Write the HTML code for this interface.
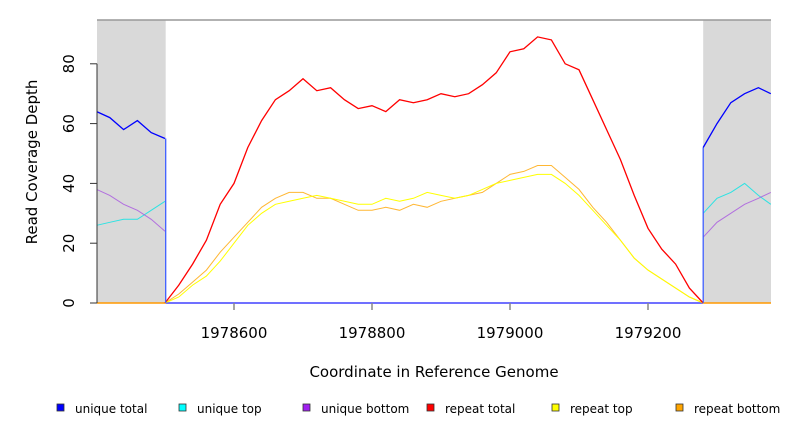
<!DOCTYPE html>
<html><head><meta charset="utf-8"><style>
body{margin:0;background:#fff;font-family:"Liberation Sans","DejaVu Sans",sans-serif}
svg text{font-family:"DejaVu Sans","Liberation Sans",sans-serif}
</style></head><body>
<svg id="chart" width="792" height="432" xmlns="http://www.w3.org/2000/svg">
<g id="plot"></g>
</svg>
<script>
const coordsMid=[1978500,1978520,1978540,1978560,1978580,1978600,1978620,1978640,1978660,1978680,1978700,1978720,1978740,1978760,1978780,1978800,1978820,1978840,1978860,1978880,1978900,1978920,1978940,1978960,1978980,1979000,1979020,1979040,1979060,1979080,1979100,1979120,1979140,1979160,1979180,1979200,1979220,1979240,1979260,1979280];
const repeatTotal=[0,6,13,21,33,40,52,61,68,71,75,71,72,68,65,66,64,68,67,68,70,69,70,73,77,84,85,89,88,80,78,68,58,48,36,25,18,13,5,0];
const repeatBottom=[0,3,7,11,17,22,27,32,35,37,37,35,35,33,31,31,32,31,33,32,34,35,36,37,40,43,44,46,46,42,38,32,27,21,15,11,8,5,2,0];
const repeatTop=[0,2,6,9,14,20,26,30,33,34,35,36,35,34,33,33,35,34,35,37,36,35,36,38,40,41,42,43,43,40,36,31,26,21,15,11,8,5,2,0];
const coordsLeft=[1978401,1978420,1978440,1978460,1978480,1978500];
const uniqueTotalL=[64,62,58,61,57,55];
const uniqueTopL=[26,27,28,28,31,34];
const uniqueBottomL=[38,36,33,31,28,24];
const coordsRight=[1979280,1979300,1979320,1979340,1979360,1979378];
const uniqueTotalR=[52,60,67,70,72,70];
const uniqueTopR=[30,35,37,40,36,33];
const uniqueBottomR=[22,27,30,33,35,37];
const xTicks=[1978600,1978800,1979000,1979200];
const yTicks=[0,20,40,60,80];
const legendLabels=["unique total","unique top","unique bottom","repeat total","repeat top","repeat bottom"];
const legendColors=["#0000ff","#00ffff","#a020f0","#ff0000","#ffff00","#ffa500"];

const PL=97,PR=771,PT=20,PB=303;
const X=c=>234+(c-1978600)*0.69;
const Y=v=>303-v*2.99;
const NS="http://www.w3.org/2000/svg";
const plotG=document.getElementById('plot');
function mk(t,a){const e=document.createElementNS(NS,t);for(const k in a)e.setAttribute(k,a[k]);plotG.appendChild(e);return e;}

const r1=mk('rect',{x:PL,y:PT,width:X(1978501)-PL,height:PB-PT,fill:'#d9d9d9'});


const r2=mk('rect',{x:X(1979280),y:PT,width:PR-X(1979280),height:PB-PT,fill:'#d9d9d9'});


const topBorder=mk('line',{x1:PL,y1:PT,x2:PR,y2:PT,stroke:'#999',"stroke-width":1.5});



function series(cs,vs,color,name,w,op){
  const pts=cs.map((c,i)=>X(c).toFixed(1)+','+Y(vs[i]).toFixed(1)).join(' ');
  const p=mk('polyline',{points:pts,fill:'none',stroke:color,"stroke-width":w,opacity:op||1});
  
  
}
const bl=mk('line',{x1:X(1978501),y1:PB,x2:X(1979280),y2:PB,stroke:'#4040ff',"stroke-width":1.5});


const ob1=mk('line',{x1:PL,y1:PB,x2:X(1978501),y2:PB,stroke:'#ff9900',"stroke-width":1.5});


const ob2=mk('line',{x1:X(1979280),y1:PB,x2:PR,y2:PB,stroke:'#ff9900',"stroke-width":1.5});



series(coordsMid,repeatBottom,'#ffa500','repeat-bottom-line',1,0.8);
series(coordsMid,repeatTop,'#ffff00','repeat-top-line',1);
series(coordsMid,repeatTotal,'#ff0000','repeat-total-line',1.3);
series(coordsLeft,uniqueTopL,'#00e5e5','unique-top-line-left',1,0.8);
series(coordsLeft,uniqueBottomL,'#a855e0','unique-bottom-line-left',1,0.8);
series(coordsLeft,uniqueTotalL,'#0000ff','unique-total-line-left',1.3);
series(coordsRight,uniqueTopR,'#00e5e5','unique-top-line-right',1,0.8);
series(coordsRight,uniqueBottomR,'#a855e0','unique-bottom-line-right',1,0.8);
series(coordsRight,uniqueTotalR,'#0000ff','unique-total-line-right',1.3);
const d1=mk('line',{x1:X(1978501),y1:Y(uniqueTotalL[5]),x2:X(1978501),y2:PB,stroke:'#4060ff',"stroke-width":1.3});


const d2=mk('line',{x1:X(1979280),y1:Y(uniqueTotalR[0]),x2:X(1979280),y2:PB,stroke:'#4060ff',"stroke-width":1.3});



const ya=mk('line',{x1:PL,y1:Y(0),x2:PL,y2:Y(80),stroke:'#333',"stroke-width":1});


yTicks.forEach(v=>{
  const t=mk('line',{x1:PL-7,y1:Y(v),x2:PL,y2:Y(v),stroke:'#333'});
  
  
  const tx=mk('text',{x:0,y:0,transform:`translate(74,${Y(v)}) rotate(-90)`,"text-anchor":"middle","font-size":15,fill:'#000'});
  tx.textContent=v;
  
  
});
xTicks.forEach(c=>{
  const t=mk('line',{x1:X(c),y1:PB,x2:X(c),y2:PB+7,stroke:'#888',"stroke-width":1.5});
  
  
  const tx=mk('text',{x:X(c),y:338,"text-anchor":"middle","font-size":15,fill:'#000'});
  tx.textContent=c;
  
  
});
const xt=mk('text',{x:434,y:377,"text-anchor":"middle","font-size":15,fill:'#000'});
xt.textContent='Coordinate in Reference Genome';


const yt=mk('text',{x:0,y:0,transform:'translate(37,162) rotate(-90)',"text-anchor":"middle","font-size":15,fill:'#000'});
yt.textContent='Read Coverage Depth';



const lx=[57,179,303,427,552,676];
legendLabels.forEach((lab,i)=>{
  const s=mk('rect',{x:lx[i],y:404,width:7,height:7,fill:legendColors[i],stroke:'#333',"stroke-width":0.8});
  
  
  const t=mk('text',{x:lx[i]+18,y:413,"font-size":12,fill:'#000'});
  t.textContent=lab;
  
  
});
</script>
</body></html>
